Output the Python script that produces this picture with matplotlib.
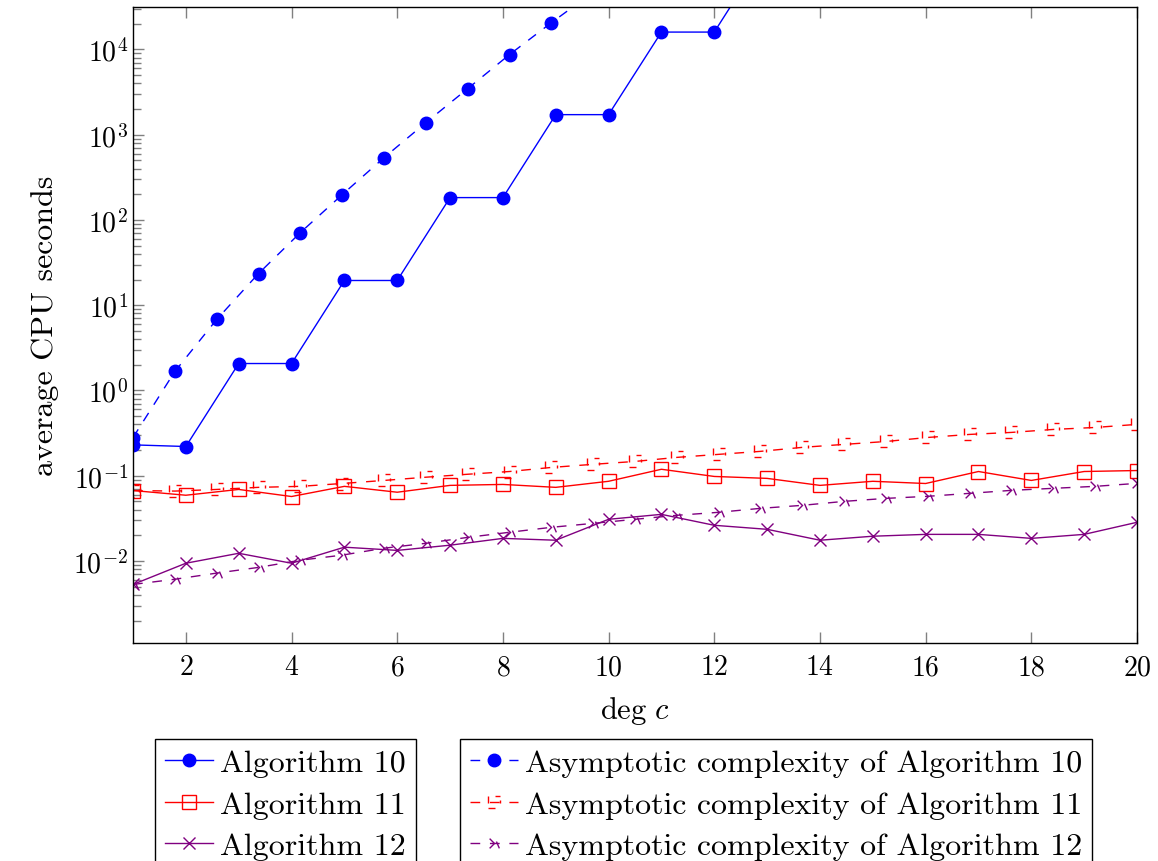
import numpy as np
import matplotlib
matplotlib.use("Agg")
import matplotlib.pyplot as plt
from matplotlib.path import Path

plt.rcParams['font.family'] = ['cmr10', 'DejaVu Serif']
plt.rcParams['mathtext.fontset'] = 'cm'
plt.rcParams['axes.formatter.use_mathtext'] = True

# measured runs, deg c = 1..20
deg = np.arange(1, 21)
alg10 = [0.23, 0.22, 2.07, 2.07, 19.5, 19.5, 183, 183, 1720, 1720,
         16000, 16000, 150000]
alg11 = [0.067, 0.059, 0.069, 0.057, 0.075, 0.064, 0.077, 0.079, 0.073, 0.086,
         0.119, 0.098, 0.093, 0.077, 0.086, 0.081, 0.112, 0.088, 0.112, 0.115]
alg12 = [0.0053, 0.0094, 0.0123, 0.0094, 0.0145, 0.0133, 0.0153, 0.0184, 0.0175, 0.0308,
         0.0352, 0.0262, 0.0235, 0.0175, 0.0195, 0.0205, 0.0205, 0.0184, 0.0205, 0.0284]

# asymptotic curves, 25 samples on [1, 20]
xs = np.linspace(1, 20, 25)
asym10 = [0.28, 1.67, 6.8, 23.5, 71, 198, 538, 1385, 3470, 8710, 20600, 47000, 110000]
asym11 = [0.067, 0.066, 0.069, 0.073, 0.075, 0.081, 0.088, 0.096, 0.104, 0.112,
          0.125, 0.136, 0.147, 0.164, 0.178, 0.193, 0.215, 0.233, 0.252, 0.281,
          0.305, 0.322, 0.349, 0.368, 0.40]
asym12 = [0.0053, 0.0061, 0.0072, 0.0084, 0.0102, 0.0117, 0.0141, 0.0161, 0.0189, 0.0217,
          0.0248, 0.0276, 0.0308, 0.0343, 0.0372, 0.0414, 0.0449, 0.0500, 0.0542, 0.0573,
          0.0621, 0.0673, 0.0711, 0.075, 0.0813]

blue, red, purple = '#0000ff', '#ff0000', '#800080'

# marks drawn with the dash pattern -> broken square / broken cross
M, L = Path.MOVETO, Path.LINETO
broken_square = Path(
    [(-1, -1), (0.1, -1), (-1, -0.1), (-1, 1), (0.1, 1), (1, 1), (1, 0.3), (1, -0.2)],
    [M, L, M, L, M, L, M, L])
broken_x = Path(
    [(-1, 1), (0.1, -0.1), (-1, -1), (-0.1, -0.1), (0.4, 0.4), (1, -1)],
    [M, L, M, L, M, L])

fig = plt.figure(figsize=(11.58, 8.62), dpi=100)
ax = fig.add_axes([133 / 1158, (862 - 644) / 862, (1137 - 133) / 1158, (644 - 8) / 862])

h1, = ax.plot(deg[:len(alg10)], alg10, '-', color=blue, marker='o', ms=9, lw=1.0)
h2, = ax.plot(deg, alg11, '-', color=red, marker='s', ms=10, mfc='none', mew=1.0, lw=1.0)
h3, = ax.plot(deg, alg12, '-', color=purple, marker='x', ms=8, mew=1.0, lw=1.0)

h4, = ax.plot(xs[:len(asym10)], asym10, '--', color=blue, marker='o', ms=9, lw=1.0)
h5, = ax.plot(xs, asym11, '--', color=red, marker=broken_square, ms=9, mfc='none', mew=1.0, lw=1.0)
h6, = ax.plot(xs, asym12, '--', color=purple, marker=broken_x, ms=7, mew=1.0, lw=1.0)
for h in (h4, h5, h6):
    h.set_dashes((7, 7))

ax.set_yscale('log')
ax.set_xlim(1, 20)
ax.set_ylim(1.09e-3, 3.15e4)
ax.set_xticks([2, 4, 6, 8, 10, 12, 14, 16, 18, 20])
ax.set_yticks([1e-2, 1e-1, 1e0, 1e1, 1e2, 1e3, 1e4])
ax.tick_params(which='both', direction='in', top=True, right=False, color='gray', labelsize=20)
ax.tick_params(which='major', length=8, width=1)
ax.tick_params(which='minor', length=6, width=1)
ax.tick_params(axis='x', pad=8)
for s in ax.spines.values():
    s.set_linewidth(1.0)

ax.set_xlabel(r'$\deg\,c$', fontsize=22, labelpad=10)
ax.set_ylabel('average CPU seconds', fontsize=23, labelpad=10)

legkw = dict(loc='upper left', fontsize=23, frameon=True, fancybox=False,
             edgecolor='black', framealpha=1, handlelength=1.5, handletextpad=0.25,
             labelspacing=0.42, borderpad=0.3, borderaxespad=0, numpoints=1)
leg1 = fig.legend([h1, h2, h3], ['Algorithm 10', 'Algorithm 11', 'Algorithm 12'],
                  bbox_to_anchor=(155 / 1158, 1 - 740 / 862), **legkw)
leg2 = fig.legend([h4, h5, h6], ['Asymptotic complexity of Algorithm 10',
                                 'Asymptotic complexity of Algorithm 11',
                                 'Asymptotic complexity of Algorithm 12'],
                  bbox_to_anchor=(460 / 1158, 1 - 740 / 862), **legkw)
for lg in (leg1, leg2):
    lg.get_frame().set_linewidth(1.0)

fig.savefig('out.png', dpi=100)
